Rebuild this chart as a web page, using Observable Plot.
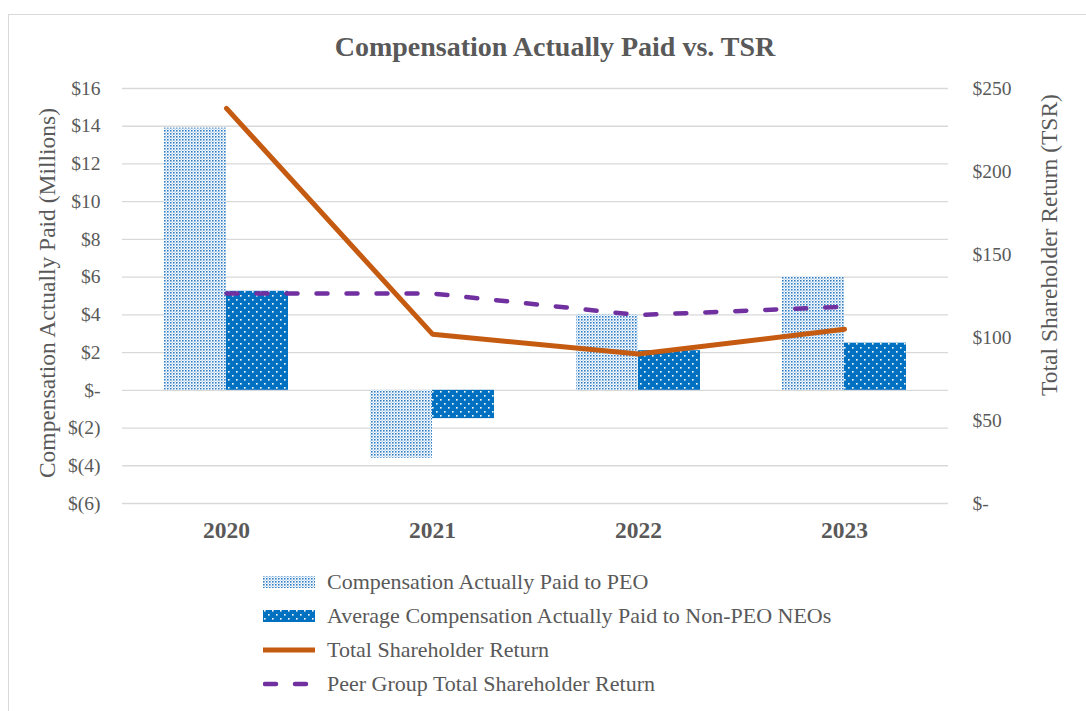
<!DOCTYPE html>
<html>
<head>
<meta charset="utf-8">
<script src="https://cdn.jsdelivr.net/npm/d3@7"></script>
<script src="https://cdn.jsdelivr.net/npm/@observablehq/plot@0.6"></script>
<style>
  html, body { margin: 0; padding: 0; background: #fff; overflow: hidden; }
  #wrap { position: relative; width: 1086px; height: 711px; font-family: "Liberation Serif", "DejaVu Serif", serif; color: #595959; }
  #border { position: absolute; left: 8px; top: 14px; width: 1100px; height: 720px; border: 1.5px solid #d9d9d9; box-sizing: border-box; }
  #title { position: absolute; left: 555px; top: 47px; transform: translate(-50%, -50%); font-size: 28px; font-weight: bold; white-space: nowrap; }
  #chart { position: absolute; left: 0; top: 70px; }
  .ylab { position: absolute; white-space: nowrap; font-size: 23.5px; transform: translate(-50%, -50%) rotate(-90deg); }
  #legend { position: absolute; left: 263px; top: 565px; }
  .lrow { position: absolute; left: 0; height: 34px; display: flex; align-items: center; white-space: nowrap; font-size: 22px; }
  .lrow svg { margin-right: 12px; }
</style>
</head>
<body>
<div id="wrap">
  <div id="border"></div>
  <div id="title">Compensation Actually Paid vs. TSR</div>
  <div class="ylab" style="left:47px; top:293px;">Compensation Actually Paid (Millions)</div>
  <div class="ylab" style="left:1049px; top:245px;">Total Shareholder Return (TSR)</div>
  <div id="chart"></div>
  <div id="legend"></div>
</div>
<script>
// ---- data ----
const years = ["2020", "2021", "2022", "2023"];
const peoCAP = [13.9, -3.6, 4.0, 6.0];          // $ millions
const neoCAP = [5.25, -1.5, 2.1, 2.5];          // $ millions
const tsr = [238, 102, 90, 105];                // $
const peerTsr = [126.5, 126.5, 113.5, 118.5];   // $
const leftTicks = [-6, -4, -2, 0, 2, 4, 6, 8, 10, 12, 14, 16];
const rightTicks = [0, 50, 100, 150, 200, 250];
const seriesNames = [
  "Compensation Actually Paid to PEO",
  "Average Compensation Actually Paid to Non-PEO NEOs",
  "Total Shareholder Return",
  "Peer Group Total Shareholder Return"
];

// ---- scales mapping (right axis mapped onto left) ----
const leftDomain = [-6, 16];
const rightDomain = [0, 250];
const toLeft = v => leftDomain[0] + (v - rightDomain[0]) / (rightDomain[1] - rightDomain[0]) * (leftDomain[1] - leftDomain[0]);
const toRight = v => rightDomain[0] + (v - leftDomain[0]) / (leftDomain[1] - leftDomain[0]) * (rightDomain[1] - rightDomain[0]);
const fmtLeft = v => v === 0 ? "$-" : v < 0 ? `$(${-v})` : `$${v}`;
const fmtRight = v => v === 0 ? "$-" : `$${v}`;

const rows = years.map((y, i) => ({year: y, peo: peoCAP[i], neo: neoCAP[i], tsr: tsr[i], peer: peerTsr[i]}));

const plot = Plot.plot({
  width: 1086,
  height: 480,
  marginLeft: 122,
  marginRight: 138,
  marginTop: 18,
  marginBottom: 47,
  style: {fontFamily: "Liberation Serif", fontSize: "19.5px", color: "#595959", background: "transparent", overflow: "visible"},
  x: {type: "band", domain: years, paddingInner: 0.7, paddingOuter: 0.35, axis: null},
  y: {domain: leftDomain, axis: null},
  marks: [
    Plot.gridY(leftTicks, {stroke: "#d9d9d9", strokeOpacity: 1, strokeWidth: 1.3}),
    Plot.axisY(leftTicks, {anchor: "left", tickSize: 0, tickPadding: 22, tickFormat: fmtLeft, label: null, fill: "#595959"}),
    Plot.axisY(rightTicks.map(toLeft), {anchor: "right", tickSize: 0, tickPadding: 24, tickFormat: v => fmtRight(Math.round(toRight(v))), label: null, fill: "#595959"}),
    Plot.axisX({tickSize: 0, tickPadding: 18, fontWeight: "bold", fontSize: 23.5, label: null, fill: "#595959"}),
    Plot.barY(rows, {x: "year", y: "peo", fill: "url(#patPeo)", dx: -31}),
    Plot.barY(rows, {x: "year", y: "neo", fill: "url(#patNeo)", dx: 31}),
    Plot.lineY(rows, {x: "year", y: d => toLeft(d.tsr), stroke: "#C55A11", strokeWidth: 5}),
    Plot.lineY(rows, {x: "year", y: d => toLeft(d.peer), stroke: "#7030A0", strokeWidth: 4.5, strokeDasharray: "11,19", strokeLinecap: "round"})
  ]
});

const defs = `
<pattern id="patPeo" patternUnits="userSpaceOnUse" width="3" height="3">
  <rect width="3" height="3" fill="#ffffff"/>
  <rect x="0" y="0" width="1.6" height="1.6" fill="#2e7cc4"/>
  <rect x="1.6" y="1.6" width="1.4" height="1.4" fill="#bcd6ee"/>
</pattern>
<pattern id="patNeo" patternUnits="userSpaceOnUse" width="8" height="8">
  <rect width="8" height="8" fill="#0070C0"/>
  <rect x="1" y="1" width="1.6" height="1.6" fill="#ffffff"/>
  <rect x="5" y="5" width="1.6" height="1.6" fill="#ffffff"/>
</pattern>`;
d3.select(plot).insert("defs", ":first-child").html(defs);
document.getElementById("chart").appendChild(plot);

// ---- legend ----
const legend = d3.select("#legend");
const swatches = [
  `<svg width="52" height="14"><rect x="0" y="1" width="52" height="12" fill="url(#patPeo)"/></svg>`,
  `<svg width="52" height="14"><rect x="0" y="1" width="52" height="12" fill="url(#patNeo)"/></svg>`,
  `<svg width="52" height="14"><line x1="0" x2="52" y1="7" y2="7" stroke="#C55A11" stroke-width="5"/></svg>`,
  `<svg width="52" height="14"><line x1="2" x2="52" y1="7" y2="7" stroke="#7030A0" stroke-width="4.5" stroke-dasharray="11,19" stroke-linecap="round"/></svg>`
];
seriesNames.forEach((name, i) => {
  legend.append("div").attr("class", "lrow").style("top", `${i * 34}px`)
    .html(swatches[i] + `<span>${name}</span>`);
});
</script>
</body>
</html>
